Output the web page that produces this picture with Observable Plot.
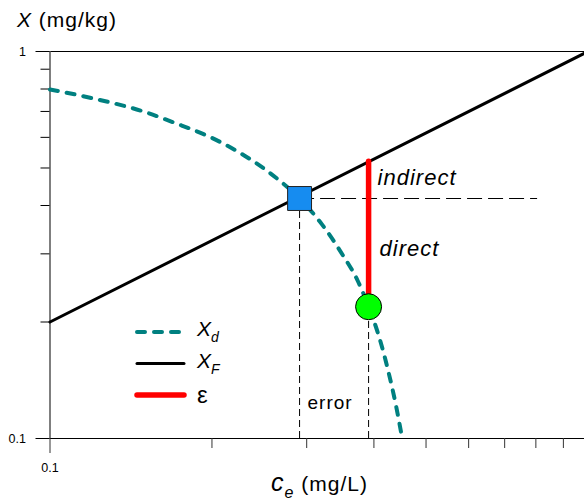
<!DOCTYPE html>
<html>
<head>
<meta charset="utf-8">
<script src="https://cdn.jsdelivr.net/npm/d3@7"></script>
<script src="https://cdn.jsdelivr.net/npm/@observablehq/plot@0.6"></script>
<style>
  body { margin: 0; background: #fff; }
  #chart svg { font-family: "Liberation Sans", Arial, Helvetica, sans-serif; }
  #chart svg g[aria-label$="tick label"] { font-size: 12.5px; }
</style>
</head>
<body>
<div id="chart"></div>
<script>
// ---- data ----
// desorption isotherm X_d (dashed teal curve)
const xdCe = [0.100, 0.120, 0.150, 0.170, 0.200, 0.230, 0.260, 0.291, 0.320, 0.350, 0.373, 0.391, 0.410, 0.425, 0.440, 0.4515];
const xdX  = [0.798, 0.757, 0.698, 0.655, 0.598, 0.538, 0.478, 0.417, 0.358, 0.298, 0.256, 0.219, 0.181, 0.150, 0.121, 0.100];
// Freundlich isotherm X_F (black line)
const xfCe = [0.1, 1];
const xfX  = [0.2, 1];
// equilibrium point (blue square) and measured point (green circle)
const equilibriumCe = 0.291, equilibriumX = 0.417;
const measuredCe = 0.391, measuredX = 0.219;
const horizontalEndCe = 0.806;
// ticks
const xDomain = [0.1, 1];
const yDomain = [0.1, 1];
const xMajorTicks = [0.1];
const xMinorTicks = [0.2, 0.3, 0.4, 0.5, 0.6, 0.7, 0.8, 0.9];
const yMajorTicks = [0.1, 1];
const yMinorTicks = [0.2, 0.3, 0.4, 0.5, 0.6, 0.7, 0.8, 0.9];
const annotationTexts = ["indirect", "direct", "error"];
const legendLabels = [["X", "d"], ["X", "F"], ["ε", ""]];

// ---- derived tables ----
const xd = xdCe.map((c, i) => ({ce: c, x: xdX[i]}));
const xf = xfCe.map((c, i) => ({ce: c, x: xfX[i]}));
// X_F evaluated at the measured ce (log-log straight line through xf points)
const slope = Math.log(xfX[1] / xfX[0]) / Math.log(xfCe[1] / xfCe[0]);
const xfAtMeasured = xfX[0] * Math.pow(measuredCe / xfCe[0], slope);
const eq = {ce: equilibriumCe, x: equilibriumX};
const meas = {ce: measuredCe, x: measuredX, top: xfAtMeasured};

const teal = "#008080";

function overlay() {
  const g = d3.create("svg:g").attr("fill", "black").attr("text-anchor", "start");
  // y title
  const yt = g.append("text").attr("x", 17).attr("y", 27).attr("font-size", 21).style("letter-spacing", "1px");
  yt.append("tspan").attr("font-style", "italic").text("X");
  yt.append("tspan").text(" (mg/kg)");
  // x title
  const xt = g.append("text").attr("x", 271).attr("y", 491).attr("font-size", 21).style("letter-spacing", "1px");
  xt.append("tspan").attr("font-style", "italic").attr("font-size", 25).text("c");
  xt.append("tspan").attr("font-style", "italic").attr("font-size", 16).attr("dy", 7).text("e");
  xt.append("tspan").attr("dy", -7).text(" (mg/L)");
  // legend
  const styles = [
    {stroke: teal, width: 4, dash: "8,9", x2: 182},
    {stroke: "black", width: 3, dash: null, x2: 184},
    {stroke: "red", width: 5.5, dash: null, x2: 184}
  ];
  legendLabels.forEach(([main, sub], i) => {
    const y = 332 + i * 31.5;
    const s = styles[i];
    g.append("line").attr("x1", 137).attr("x2", s.x2).attr("y1", y).attr("y2", y)
      .attr("stroke", s.stroke).attr("stroke-width", s.width)
      .attr("stroke-linecap", "round")
      .attr("stroke-dasharray", s.dash);
    const t = g.append("text").attr("x", 197).attr("font-size", sub ? 21 : 24)
      .attr("y", sub ? y + 4 : y + 8);
    t.append("tspan").attr("font-style", sub ? "italic" : null).text(main);
    if (sub) t.append("tspan").attr("font-style", "italic").attr("font-size", 14).attr("dy", 6).text(sub);
  });
  return g.node();
}

const chart = Plot.plot({
  width: 584,
  height: 501,
  marginLeft: 49.5,
  marginRight: 0,
  marginTop: 51,
  marginBottom: 63,
  x: {type: "log", domain: xDomain, range: [49.5, 587.5], label: null},
  y: {type: "log", domain: yDomain, label: null},
  style: {background: "white", color: "black", fontSize: "12px", fontFamily: "'Liberation Sans', Arial, sans-serif"},
  marks: [
    // frame lines
    Plot.ruleY([yDomain[1]], {stroke: "black", strokeWidth: 1}),
    Plot.ruleY([yDomain[0]], {stroke: "black", strokeWidth: 1}),
    Plot.ruleX([xDomain[0]], {stroke: "#555", strokeWidth: 1.5}),
    // axes
    Plot.axisY(yMajorTicks, {anchor: "left", tickSize: 14, tickPadding: 10, tickFormat: d => String(d), label: null, fontSize: 12.5}),
    Plot.axisY(yMinorTicks, {anchor: "left", tickSize: 9, tickFormat: () => "", label: null}),
    Plot.axisX(xMajorTicks, {anchor: "bottom", tickSize: 15, tickPadding: 10, tickFormat: d => String(d), label: null, fontSize: 12.5, stroke: "#333"}),
    Plot.axisX(xMinorTicks, {anchor: "bottom", tickSize: 10, tickFormat: () => "", label: null, stroke: "#333"}),
    // X_d curve
    Plot.line(xd, {x: "ce", y: "x", stroke: teal, strokeWidth: 4, strokeDasharray: "8,9", strokeLinecap: "round", curve: "monotone-x"}),
    // X_F line
    Plot.line(xf, {x: "ce", y: "x", stroke: "black", strokeWidth: 3}),
    // thin dashed guides
    Plot.ruleX([eq], {x: "ce", y1: yDomain[0], y2: "x", stroke: "black", strokeWidth: 1, strokeDasharray: "7,4"}),
    Plot.ruleX([meas], {x: "ce", y1: yDomain[0], y2: "x", stroke: "black", strokeWidth: 1, strokeDasharray: "7,4"}),
    Plot.ruleY([eq], {y: "x", x1: "ce", x2: horizontalEndCe, stroke: "black", strokeWidth: 1, strokeDasharray: "15,6"}),
    // error bar (red)
    Plot.ruleX([meas], {x: "ce", y1: "x", y2: "top", stroke: "red", strokeWidth: 5.5, strokeLinecap: "round"}),
    // points
    Plot.dot([eq], {x: "ce", y: "x", symbol: "square", r: 13.5, fill: "#168cf0", stroke: "#222", strokeWidth: 1}),
    Plot.dot([meas], {x: "ce", y: "x", r: 13, fill: "#00ff00", stroke: "black", strokeWidth: 1}),
    // annotations
    Plot.text([{ce: measuredCe, x: Math.sqrt(equilibriumX * xfAtMeasured), t: annotationTexts[0]}],
      {x: "ce", y: "x", text: "t", textAnchor: "start", dx: 9, dy: -2, fontSize: 22, fontStyle: "italic", fill: "black"}),
    Plot.text([{ce: measuredCe, x: Math.sqrt(equilibriumX * measuredX), t: annotationTexts[1]}],
      {x: "ce", y: "x", text: "t", textAnchor: "start", dx: 11, dy: -4, fontSize: 22, fontStyle: "italic", fill: "black"}),
    Plot.text([{ce: Math.sqrt(equilibriumCe * measuredCe), t: annotationTexts[2]}],
      {x: "ce", frameAnchor: "bottom", text: "t", dx: -4, dy: -30, fontSize: 19, fill: "black"}),
    overlay
  ]
});
d3.select(chart).selectAll('g[aria-label="text"] text').style("letter-spacing", "1px");
document.getElementById("chart").appendChild(chart);
</script>
</body>
</html>
